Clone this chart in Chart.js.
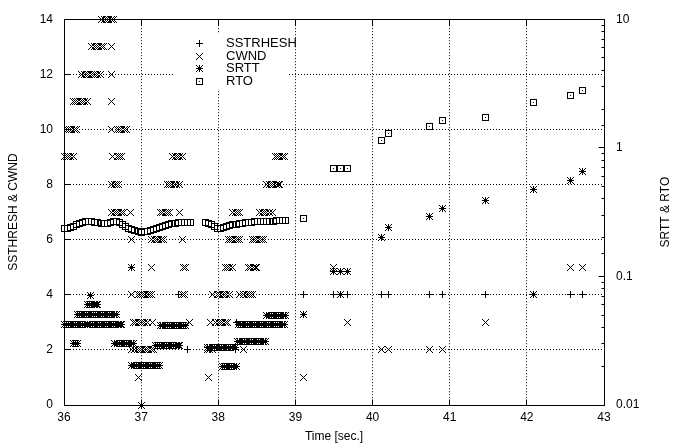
<!DOCTYPE html>
<html>
<head>
<meta charset="utf-8">
<script src="https://cdn.jsdelivr.net/npm/chart.js@4.4.1/dist/chart.umd.min.js"></script>
<style>
  html, body { margin: 0; padding: 0; background: #fff; }
  #traceChart { display: block; }
</style>
</head>
<body>
<canvas id="traceChart" width="684" height="445"></canvas>
<script>
// [time (s), segments] samples for the left axis
const ssthresh = [
    [36.88, 5], [37.00, 0], [37.48, 4], [37.60, 2], [38.22, 2], [38.24, 3],
    [39.10, 4], [39.49, 4], [39.59, 4], [39.68, 4], [40.12, 4], [40.20, 4],
    [40.74, 4], [40.91, 4], [41.46, 4], [42.08, 4], [42.56, 4], [42.72, 4],
];

const cwnd = [
    [36.00, 9], [36.03, 9], [36.06, 9], [36.09, 9], [36.12, 9],
    [36.04, 10], [36.07, 10], [36.10, 10], [36.13, 10], [36.16, 10],
    [36.12, 11], [36.15, 11], [36.18, 11], [36.21, 11], [36.24, 11], [36.27, 11], [36.30, 11],
    [36.23, 12], [36.26, 12], [36.29, 12], [36.32, 12], [36.35, 12], [36.38, 12], [36.41, 12], [36.44, 12], [36.47, 12],
    [36.36, 13], [36.39, 13], [36.42, 13], [36.45, 13], [36.48, 13], [36.51, 13],
    [36.49, 14], [36.52, 14], [36.55, 14], [36.58, 14], [36.61, 14], [36.64, 14],
    [36.62, 13], [36.62, 12], [36.62, 11], [36.62, 10], [36.63, 9],
    [36.69, 10], [36.72, 10], [36.75, 10], [36.78, 10], [36.81, 10],
    [36.69, 9], [36.72, 9], [36.75, 9],
    [36.62, 8], [36.65, 8], [36.68, 8], [36.71, 8],
    [36.62, 7], [36.65, 7], [36.68, 7], [36.71, 7], [36.74, 7], [36.77, 7], [36.86, 7],
    [36.87, 6], [36.88, 5], [36.88, 4],
    [36.90, 3], [36.93, 3], [36.96, 3], [36.99, 3], [37.02, 3], [37.05, 3], [37.08, 3], [37.15, 3],
    [36.88, 2], [36.92, 2], [36.95, 2], [36.98, 2], [37.01, 2], [37.04, 2], [37.07, 2], [37.10, 2], [37.13, 2], [37.16, 2],
    [36.96, 1], [37.00, 0],
    [36.96, 4], [36.99, 4], [37.02, 4], [37.05, 4], [37.08, 4], [37.11, 4], [37.14, 4],
    [37.14, 6], [37.17, 6], [37.20, 6], [37.23, 6], [37.26, 6], [37.29, 6], [37.53, 6],
    [37.14, 5], [37.55, 5], [37.57, 5],
    [37.25, 7], [37.28, 7], [37.31, 7], [37.34, 7], [37.37, 7], [37.50, 7],
    [37.34, 8], [37.37, 8], [37.40, 8], [37.43, 8], [37.46, 8], [37.50, 8],
    [37.41, 9], [37.44, 9], [37.47, 9], [37.50, 9], [37.53, 9],
    [37.53, 4], [37.56, 4], [37.63, 3],
    [37.87, 1], [37.86, 2], [37.89, 2], [37.92, 2], [38.33, 2],
    [37.90, 3], [37.97, 3], [38.00, 3], [38.03, 3], [38.06, 3], [38.09, 3], [38.12, 3],
    [37.93, 4], [37.99, 4], [38.02, 4], [38.05, 4], [38.08, 4], [38.11, 4], [38.14, 4],
    [38.28, 4], [38.33, 4], [38.36, 4], [38.39, 4], [38.42, 4], [38.44, 4],
    [38.09, 5], [38.12, 5], [38.15, 5], [38.18, 5],
    [38.39, 5], [38.42, 5], [38.45, 5], [38.48, 5], [38.50, 5],
    [38.13, 6], [38.16, 6], [38.19, 6], [38.22, 6], [38.25, 6], [38.28, 6],
    [38.44, 6], [38.47, 6], [38.50, 6], [38.53, 6], [38.56, 6], [38.58, 6],
    [38.19, 7], [38.22, 7], [38.25, 7], [38.28, 7],
    [38.54, 7], [38.57, 7], [38.60, 7], [38.63, 7], [38.66, 7], [38.70, 7],
    [38.63, 8], [38.66, 8], [38.69, 8], [38.72, 8], [38.75, 8], [38.78, 8], [38.80, 8],
    [38.74, 9], [38.77, 9], [38.80, 9], [38.83, 9], [38.86, 9],
    [39.10, 1], [39.49, 5], [39.59, 4], [39.68, 3], [40.12, 2], [40.20, 2],
    [40.74, 2], [40.91, 2], [41.46, 3], [42.08, 4], [42.56, 5], [42.72, 5],
];

// [time (s), seconds] samples for the right (log) axis
const srtt = [
    [36.00, 0.0425], [36.03, 0.0425], [36.06, 0.0425], [36.09, 0.0425], [36.12, 0.0425], [36.15, 0.0425],
    [36.18, 0.0425], [36.21, 0.0425], [36.24, 0.0425], [36.27, 0.0425], [36.30, 0.0425],
    [36.12, 0.030], [36.15, 0.030], [36.18, 0.030],
    [36.17, 0.0507], [36.20, 0.0507], [36.23, 0.0507], [36.26, 0.0507], [36.29, 0.0507], [36.32, 0.0507],
    [36.35, 0.0507], [36.38, 0.0507], [36.41, 0.0507], [36.44, 0.0507], [36.47, 0.0507], [36.50, 0.0507],
    [36.53, 0.0507], [36.56, 0.0507], [36.59, 0.0507], [36.62, 0.0507], [36.65, 0.0507], [36.68, 0.0507],
    [36.30, 0.061], [36.33, 0.061], [36.36, 0.061], [36.39, 0.061], [36.42, 0.061], [36.44, 0.061],
    [36.34, 0.0716],
    [36.34, 0.0425], [36.37, 0.0425], [36.40, 0.0425], [36.43, 0.0425], [36.46, 0.0425], [36.49, 0.0425],
    [36.52, 0.0425], [36.55, 0.0425], [36.58, 0.0425], [36.61, 0.0425], [36.64, 0.0425], [36.67, 0.0425],
    [36.70, 0.0425], [36.73, 0.0425], [36.75, 0.0425],
    [36.66, 0.030], [36.69, 0.030], [36.72, 0.030], [36.75, 0.030], [36.78, 0.030], [36.81, 0.030],
    [36.84, 0.030], [36.87, 0.030], [36.90, 0.030],
    [36.88, 0.0202], [36.91, 0.0202], [36.94, 0.0202], [36.97, 0.0202], [37.00, 0.0202], [37.03, 0.0202],
    [37.06, 0.0202], [37.09, 0.0202], [37.12, 0.0202], [37.15, 0.0202], [37.18, 0.0202], [37.21, 0.0202],
    [37.24, 0.0202],
    [37.18, 0.0292], [37.21, 0.0292], [37.24, 0.0292], [37.27, 0.0292], [37.30, 0.0292], [37.33, 0.0292],
    [37.36, 0.0292], [37.39, 0.0292], [37.42, 0.0292], [37.45, 0.0292], [37.48, 0.0292], [37.50, 0.0292],
    [37.25, 0.0415], [37.28, 0.0415], [37.31, 0.0415], [37.34, 0.0415], [37.37, 0.0415], [37.40, 0.0415],
    [37.43, 0.0415], [37.46, 0.0415], [37.49, 0.0415], [37.52, 0.0415], [37.55, 0.0415], [37.58, 0.0415],
    [37.86, 0.028], [37.89, 0.028], [37.92, 0.028], [37.95, 0.028], [37.98, 0.028], [38.01, 0.028],
    [38.04, 0.028], [38.07, 0.028], [38.10, 0.028], [38.13, 0.028], [38.16, 0.028], [38.19, 0.028],
    [38.22, 0.028],
    [38.05, 0.020], [38.08, 0.020], [38.11, 0.020], [38.14, 0.020], [38.17, 0.020], [38.20, 0.020],
    [38.23, 0.020],
    [38.25, 0.031], [38.28, 0.031], [38.31, 0.031], [38.34, 0.031], [38.37, 0.031], [38.40, 0.031],
    [38.43, 0.031], [38.46, 0.031], [38.49, 0.031], [38.52, 0.031], [38.55, 0.031], [38.58, 0.031],
    [38.61, 0.031],
    [38.26, 0.042], [38.29, 0.042], [38.32, 0.042], [38.35, 0.042], [38.38, 0.042], [38.41, 0.042],
    [38.44, 0.042], [38.47, 0.042], [38.50, 0.042], [38.53, 0.042], [38.56, 0.042], [38.59, 0.042],
    [38.62, 0.042], [38.65, 0.042], [38.68, 0.042], [38.71, 0.042], [38.74, 0.042], [38.77, 0.042],
    [38.80, 0.042], [38.83, 0.042], [38.86, 0.042],
    [38.63, 0.050], [38.66, 0.050], [38.69, 0.050], [38.72, 0.050], [38.75, 0.050], [38.78, 0.050],
    [38.81, 0.050], [38.84, 0.050], [38.87, 0.050],
    [39.10, 0.0507], [39.49, 0.11], [39.59, 0.11], [39.68, 0.11], [40.12, 0.20], [40.20, 0.239],
    [40.74, 0.29], [40.91, 0.34], [41.46, 0.39], [42.08, 0.47], [42.56, 0.556], [42.72, 0.65],
];

const rto = [
    [36.00, 0.237], [36.04, 0.237], [36.08, 0.241], [36.12, 0.245], [36.16, 0.254], [36.20, 0.258],
    [36.24, 0.263], [36.28, 0.268], [36.32, 0.268], [36.36, 0.268], [36.40, 0.263], [36.44, 0.263],
    [36.48, 0.258], [36.52, 0.258], [36.56, 0.258], [36.60, 0.263], [36.64, 0.268], [36.68, 0.268],
    [36.72, 0.263], [36.76, 0.254], [36.80, 0.245], [36.84, 0.237], [36.88, 0.232], [36.92, 0.228],
    [36.96, 0.224], [37.00, 0.221], [37.04, 0.224], [37.08, 0.224], [37.12, 0.228], [37.16, 0.232],
    [37.20, 0.237], [37.24, 0.241], [37.28, 0.245], [37.32, 0.249], [37.36, 0.254], [37.40, 0.258],
    [37.44, 0.258], [37.48, 0.263], [37.52, 0.263], [37.56, 0.263], [37.60, 0.263], [37.64, 0.263],
    [37.83, 0.263], [37.87, 0.258], [37.91, 0.254], [37.95, 0.245], [37.99, 0.237], [38.03, 0.237],
    [38.07, 0.241], [38.11, 0.245], [38.15, 0.249], [38.19, 0.254], [38.23, 0.254], [38.27, 0.258],
    [38.31, 0.258], [38.35, 0.263], [38.39, 0.263], [38.43, 0.263], [38.47, 0.268], [38.51, 0.268],
    [38.55, 0.268], [38.59, 0.268], [38.63, 0.268], [38.67, 0.268], [38.71, 0.268], [38.75, 0.272],
    [38.79, 0.272], [38.83, 0.272], [38.87, 0.272],
    [39.10, 0.282], [39.49, 0.687], [39.59, 0.687], [39.68, 0.687], [40.12, 1.145], [40.20, 1.29],
    [40.74, 1.47], [40.91, 1.63], [41.46, 1.72], [42.08, 2.27], [42.56, 2.53], [42.72, 2.81],
];

const seriesLabels = ['SSTRHESH', 'CWND', 'SRTT', 'RTO'];

const fontFamily = "'Liberation Sans', Arial, Helvetica, sans-serif";

// small pixel markers, gnuplot style
const makeMarker = (draw) => {
    const c = document.createElement('canvas');
    c.width = 9;
    c.height = 9;
    const g = c.getContext('2d');
    g.fillStyle = '#000';
    g.strokeStyle = '#000';
    g.lineWidth = 1;
    draw(g);
    return c;
};
const drawPlus = (g) => { g.fillRect(1, 4, 7, 1); g.fillRect(4, 1, 1, 7); };
const drawCross = (g) => {
    for (let i = 1; i <= 7; i++) {
        g.fillRect(i, i, 1, 1);
        g.fillRect(8 - i, i, 1, 1);
    }
};
const plusMark = makeMarker(drawPlus);
const crossMark = makeMarker(drawCross);
const starMark = makeMarker((g) => { drawPlus(g); drawCross(g); });
const boxMark = makeMarker((g) => { g.strokeRect(1.5, 1.5, 6, 6); g.fillRect(4, 4, 1, 1); });
const markers = [plusMark, crossMark, starMark, boxMark];

const toPoints = (rows) => rows.map(([x, y]) => ({ x, y }));

const isDecade = (v) => {
    const e = Math.log10(v);
    return Math.abs(e - Math.round(e)) < 1e-6;
};

// snap point elements to pixel centres so the 9x9 markers stay crisp
const snapPlugin = {
    id: 'snapPoints',
    afterDatasetsUpdate(chart) {
        chart.data.datasets.forEach((ds, i) => {
            chart.getDatasetMeta(i).data.forEach((el) => {
                el.x = Math.floor(el.x) + 0.5;
                el.y = Math.floor(el.y) + 0.5;
            });
        });
    },
};

const framePlugin = {
    id: 'frame',
    afterDraw(chart) {
        const { ctx, chartArea: area, scales } = chart;
        const al = (v) => Math.round(v - 0.5) + 0.5;
        const l = al(area.left);
        const r = al(area.right);
        const t = al(area.top);
        const b = al(area.bottom);

        ctx.save();

        // key box, sits over the grid
        ctx.fillStyle = '#fff';
        ctx.fillRect(174, 34, 114, 55);
        ctx.fillStyle = '#000';
        ctx.font = `13px ${fontFamily}`;
        ctx.textAlign = 'left';
        ctx.textBaseline = 'middle';
        seriesLabels.forEach((label, i) => {
            const rowY = Math.round(43 + i * 12.67);
            ctx.drawImage(markers[i], 195, rowY - 4);
            ctx.fillText(label, 226, rowY + 0.5);
        });

        // border and inward ticks
        ctx.strokeStyle = '#000';
        ctx.lineWidth = 1;
        ctx.beginPath();
        ctx.rect(l, t, r - l, b - t);
        scales.x.ticks.forEach((tick) => {
            const x = al(scales.x.getPixelForValue(tick.value));
            ctx.moveTo(x, b);
            ctx.lineTo(x, b - 6);
            ctx.moveTo(x, t);
            ctx.lineTo(x, t + 6);
        });
        scales.y.ticks.forEach((tick) => {
            const y = al(scales.y.getPixelForValue(tick.value));
            ctx.moveTo(l, y);
            ctx.lineTo(l + 6, y);
        });
        scales.y2.ticks.forEach((tick) => {
            const y = al(scales.y2.getPixelForValue(tick.value));
            ctx.moveTo(r, y);
            ctx.lineTo(r - (isDecade(tick.value) ? 6 : 3), y);
        });
        ctx.stroke();

        // right axis title reads bottom to top
        ctx.font = `12px ${fontFamily}`;
        ctx.textAlign = 'center';
        ctx.translate(666, (area.top + area.bottom) / 2);
        ctx.rotate(-Math.PI / 2);
        ctx.fillText('SRTT & RTO', 0, 0);
        ctx.restore();
    },
};

document.addEventListener('DOMContentLoaded', () => {
    Chart.defaults.font.family = fontFamily;
    Chart.defaults.font.size = 12;
    Chart.defaults.color = '#000';

    const pointSet = (label, rows, marker, axis) => ({
        label,
        data: toPoints(rows),
        yAxisID: axis,
        showLine: false,
        pointStyle: marker,
        pointRadius: 4,
        pointHoverRadius: 4,
        clip: false,
    });

    const gridStyle = { color: '#000', lineWidth: 1, drawTicks: false };

    new Chart(document.getElementById('traceChart'), {
        type: 'scatter',
        data: {
            datasets: [
                pointSet(seriesLabels[0], ssthresh, plusMark, 'y'),
                pointSet(seriesLabels[1], cwnd, crossMark, 'y'),
                pointSet(seriesLabels[2], srtt, starMark, 'y2'),
                pointSet(seriesLabels[3], rto, boxMark, 'y2'),
            ],
        },
        options: {
            responsive: false,
            animation: false,
            devicePixelRatio: 1,
            events: [],
            layout: { padding: { top: 13, right: 0, bottom: 0, left: 0 } },
            plugins: {
                legend: { display: false },
                tooltip: { enabled: false },
            },
            scales: {
                x: {
                    type: 'linear',
                    min: 36,
                    max: 43,
                    ticks: { stepSize: 1, padding: 5, maxRotation: 0 },
                    grid: gridStyle,
                    border: { display: false, dash: [1, 2] },
                    title: { display: true, text: 'Time [sec.]', padding: { top: 0, bottom: 1 } },
                    afterFit: (scale) => { scale.height = 40; },
                },
                y: {
                    type: 'linear',
                    position: 'left',
                    min: 0,
                    max: 14,
                    ticks: { stepSize: 2, padding: 11 },
                    grid: gridStyle,
                    border: { display: false, dash: [1, 2] },
                    title: { display: true, text: 'SSTHRESH & CWND', padding: { top: 6, bottom: 0 } },
                    afterFit: (scale) => { scale.width = 64; },
                },
                y2: {
                    type: 'logarithmic',
                    position: 'right',
                    min: 0.01,
                    max: 10,
                    grid: { display: false, drawTicks: false },
                    border: { display: false },
                    ticks: {
                        autoSkip: false,
                        padding: 12,
                        callback: (value) => (isDecade(value) ? String(Number(value.toPrecision(3))) : ''),
                    },
                    afterFit: (scale) => { scale.width = 80; },
                },
            },
        },
        plugins: [snapPlugin, framePlugin],
    });
});
</script>
</body>
</html>
